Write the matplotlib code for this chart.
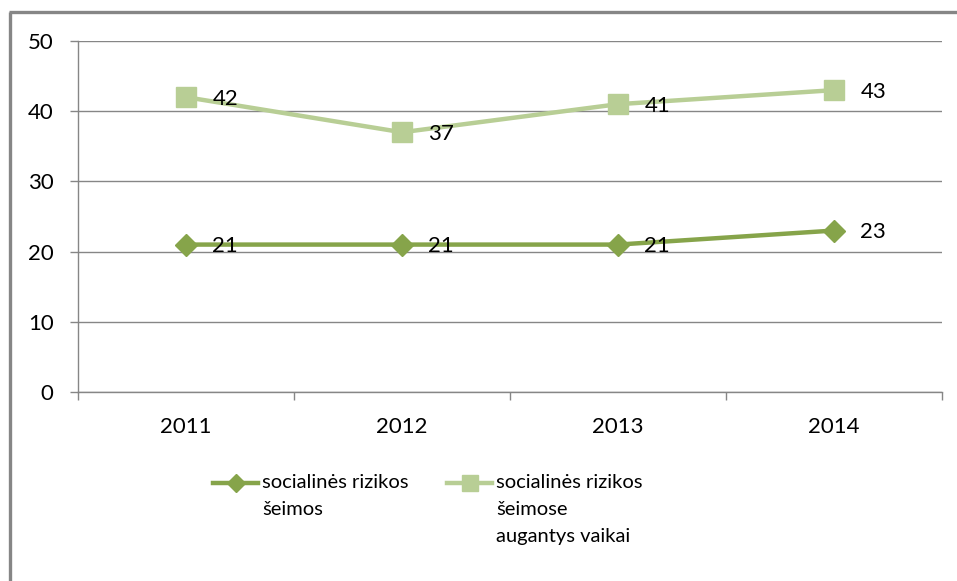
import matplotlib
matplotlib.use("Agg")
import matplotlib.pyplot as plt
from matplotlib.lines import Line2D

plt.rcParams['font.family'] = ['Lato', 'DejaVu Sans']

years = ["2011", "2012", "2013", "2014"]
families = [21, 21, 21, 23]
children = [42, 37, 41, 43]
label_families = "socialinės rizikos\nšeimos"
label_children = "socialinės rizikos\nšeimose\naugantys vaikai"
yticks = [0, 10, 20, 30, 40, 50]

dark = "#86A44A"
light = "#B8CE95"
gray = "#868686"

W, H = 957, 581
fig = plt.figure(figsize=(W / 100, H / 100), dpi=100)

# outer frame (left and top edges visible)
fig.add_artist(Line2D([10 / W, 10 / W], [0, 1 - 11.5 / H], transform=fig.transFigure,
                      color=gray, lw=2.4, solid_capstyle='butt'))
fig.add_artist(Line2D([8.8 / W, 1], [1 - 11.5 / H, 1 - 11.5 / H], transform=fig.transFigure,
                      color=gray, lw=2.4, solid_capstyle='butt'))

ax = fig.add_axes([78 / W, 189 / H, (942 - 78) / W, (392 - 41) / H])
x = list(range(len(years)))

ax.plot(x, families, color=dark, lw=3.2, marker='D', markersize=11, zorder=3)
ax.plot(x, children, color=light, lw=3.2, marker='s', markersize=14, zorder=3)

fs = 16
for xi, v in zip(x, families):
    ax.annotate(str(v), (xi, v), xytext=(19, -1), textcoords='offset points',
                ha='left', va='center', fontsize=fs, color='black', zorder=4)
for xi, v in zip(x, children):
    ax.annotate(str(v), (xi, v), xytext=(19, -1), textcoords='offset points',
                ha='left', va='center', fontsize=fs, color='black', zorder=4)

ax.set_xlim(-0.5, len(years) - 0.5)
ax.set_ylim(0, 50)
ax.set_yticks(yticks)
ax.set_yticklabels([str(t) for t in yticks], fontsize=fs)
ax.set_xticks(x)
ax.set_xticklabels(years, fontsize=fs)
ax.set_xticks([i - 0.5 for i in range(len(years) + 1)], minor=True)
ax.tick_params(axis='x', which='major', length=0, pad=18)
ax.tick_params(axis='x', which='minor', length=5.5, color=gray, width=1)
ax.tick_params(axis='y', length=5.5, color=gray, width=1, pad=12)

ax.grid(axis='y', color=gray, lw=1, zorder=0)
ax.set_axisbelow(True)
for s in ['top', 'right']:
    ax.spines[s].set_visible(False)
for s in ['left', 'bottom']:
    ax.spines[s].set_color(gray)
    ax.spines[s].set_linewidth(1)

# legend (manual)
def legend_entry(x0, x1, y, color, marker, ms, text):
    fig.add_artist(Line2D([x0 / W, x1 / W], [1 - y / H, 1 - y / H], transform=fig.transFigure,
                          color=color, lw=3.2))
    fig.add_artist(Line2D([(x0 + x1) / 2 / W], [1 - y / H], transform=fig.transFigure,
                          color=color, marker=marker, markersize=ms, lw=0))
    fig.text((x1 + 4) / W, 1 - (y - 9) / H, text, ha='left', va='top', fontsize=14.5,
             linespacing=1.72)

legend_entry(213, 258, 483, dark, 'D', 9, label_families)
legend_entry(447, 492, 483, light, 's', 11, label_children)

fig.savefig("out.png", dpi=100, facecolor='white')
